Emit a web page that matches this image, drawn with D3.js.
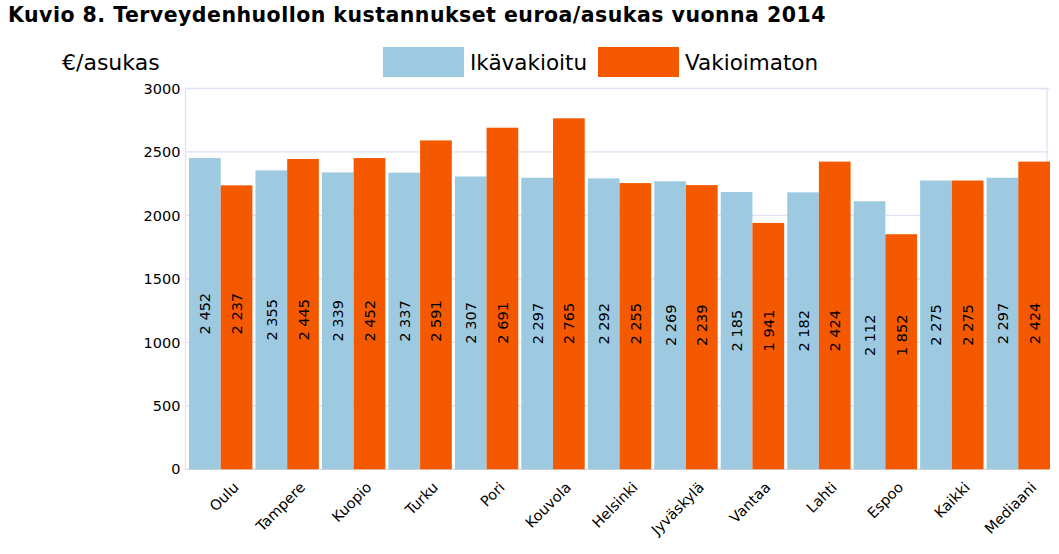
<!DOCTYPE html>
<html><head><meta charset="utf-8">
<script src="https://cdn.jsdelivr.net/npm/d3@7"></script>
<style>
html,body{margin:0;padding:0;background:#fff;}
text{font-family:"DejaVu Sans",Verdana,sans-serif;}
</style></head>
<body>
<svg id="chart" width="1059" height="554"></svg>
<script>
const categories = ["Oulu","Tampere","Kuopio","Turku","Pori","Kouvola","Helsinki","Jyväskylä","Vantaa","Lahti","Espoo","Kaikki","Mediaani"];
const seriesNames = ["Ikävakioitu","Vakioimaton"];
const ikavakioitu = [2452,2355,2339,2337,2307,2297,2292,2269,2185,2182,2112,2275,2297];
const vakioimaton = [2237,2445,2452,2591,2691,2765,2255,2239,1941,2424,1852,2275,2424];
const yTicks = [0,500,1000,1500,2000,2500,3000];
const colors = ["#9ecae1","#f45900"];

(function(){
const svg = d3.select("#chart");
const pLeft = 185.5, pRight = 1047, pTop = 88.5, pBottom = 469.3;

const y = d3.scaleLinear().domain([0,3000]).range([pBottom, pTop]);
const x0 = d3.scaleBand().domain(categories).range([189, 1050]).paddingInner(0.046).paddingOuter(0);
const x1 = d3.scaleBand().domain(seriesNames).range([0, x0.bandwidth()]);

const fmt = v => d3.format(",")(v).replace(/,/g, " ");

// title
svg.append("text").attr("x", 8).attr("y", 22).attr("font-size", 20.5).attr("font-weight", "bold").attr("fill", "#000")
  .attr("letter-spacing", 0.47)
  .text("Kuvio 8. Terveydenhuollon kustannukset euroa/asukas vuonna 2014");
svg.append("text").attr("x", 62).attr("y", 70).attr("font-size", 22).attr("fill", "#000").text("€/asukas");

// legend
const legX = [383, 598];
seriesNames.forEach((s, i) => {
  svg.append("rect").attr("x", legX[i]).attr("y", 47).attr("width", 81).attr("height", 30).attr("fill", colors[i]);
  svg.append("text").attr("x", legX[i] + 87).attr("y", 70).attr("font-size", 21.5).attr("fill", "#000").text(s);
});

// grid
const gridColor = "#e0e0f6";
svg.append("g").selectAll("line").data(yTicks.filter(d => d > 0)).join("line")
  .attr("x1", pLeft).attr("x2", pRight + 2).attr("y1", d => y(d)).attr("y2", d => y(d))
  .attr("stroke", gridColor).attr("stroke-width", 1.3);
svg.append("line").attr("x1", pRight).attr("x2", pRight).attr("y1", pTop).attr("y2", pBottom).attr("stroke", gridColor).attr("stroke-width", 1.3);
svg.append("line").attr("x1", pLeft).attr("x2", pLeft).attr("y1", pTop).attr("y2", pBottom).attr("stroke", gridColor).attr("stroke-width", 1.3);
svg.append("line").attr("x1", pLeft).attr("x2", pRight + 2).attr("y1", pBottom).attr("y2", pBottom).attr("stroke", "#d8d8e0").attr("stroke-width", 1.3);

// y axis labels
const yAxis = d3.axisLeft(y).tickValues(yTicks).tickSize(0).tickPadding(0).tickFormat(d3.format("d"));
const ya = svg.append("g").attr("transform", `translate(${pLeft - 5},0)`).call(yAxis);
ya.select(".domain").remove();
ya.selectAll("text").attr("font-size", 14.5).attr("fill", "#000").attr("font-family", '"DejaVu Sans",Verdana,sans-serif');

// bars
const rows = categories.map((c, i) => ({cat: c, vals: [ikavakioitu[i], vakioimaton[i]]}));
const g = svg.append("g").selectAll("g").data(rows).join("g").attr("transform", d => `translate(${x0(d.cat)},0)`);
g.selectAll("rect").data(d => d.vals.map((v, i) => ({s: seriesNames[i], v, i}))).join("rect")
  .attr("x", d => x1(d.s)).attr("width", x1.bandwidth()).attr("y", d => y(d.v)).attr("height", d => pBottom - y(d.v))
  .attr("fill", d => colors[d.i]);
g.each(function(d) {
  const cy = y(d.vals[0] / 2);
  d3.select(this).selectAll("text.val").data(d.vals.map((v, i) => ({s: seriesNames[i], v}))).join("text")
    .attr("class", "val")
    .attr("transform", e => `translate(${x1(e.s) + x1.bandwidth() / 2 + 5.5},${cy}) rotate(-90)`)
    .attr("text-anchor", "middle").attr("font-size", 14.5).attr("fill", "#000").text(e => fmt(e.v));
});

// x labels
const xAxis = d3.axisBottom(x0).tickSize(0).tickPadding(0);
const xa = svg.append("g").attr("transform", `translate(0,${pBottom})`).call(xAxis);
xa.select(".domain").remove();
xa.selectAll("text").attr("font-size", 14.5).attr("fill", "#000").attr("font-family", '"DejaVu Sans",Verdana,sans-serif')
  .attr("text-anchor", "end").attr("dy", null).attr("y", null)
  .attr("transform", "translate(19,19) rotate(-45)");
})();
</script>
</body></html>
